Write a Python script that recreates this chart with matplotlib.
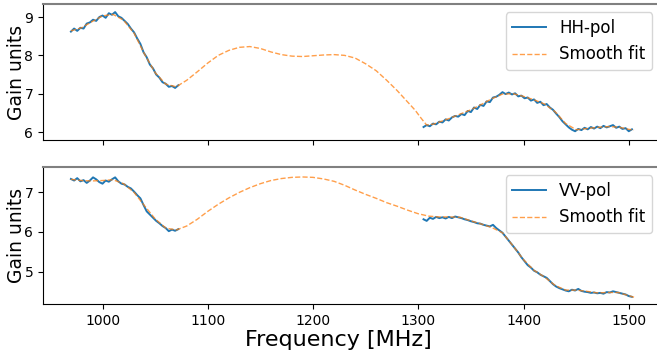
import numpy as np
import matplotlib
matplotlib.use("Agg")
import matplotlib.pyplot as plt

# measured gain, sampled every 3 MHz in two bands
lo_start, hi_start, step = 970, 1305, 3

hh_lo = [8.62, 8.70, 8.64, 8.72, 8.70, 8.83, 8.86, 8.93, 8.90, 9.00,
         9.04, 8.98, 9.10, 9.06, 9.13, 9.02, 8.98, 8.90, 8.82, 8.70,
         8.60, 8.44, 8.30, 8.08, 7.95, 7.76, 7.66, 7.50, 7.42, 7.30,
         7.26, 7.18, 7.20, 7.15, 7.22]
hh_hi = [6.13, 6.18, 6.15, 6.22, 6.20, 6.27, 6.25, 6.33, 6.30, 6.38,
         6.42, 6.40, 6.47, 6.44, 6.55, 6.52, 6.64, 6.60, 6.71, 6.68,
         6.80, 6.78, 6.90, 6.92, 6.97, 7.04, 6.99, 7.03, 6.98, 7.01,
         6.93, 6.95, 6.88, 6.90, 6.82, 6.85, 6.76, 6.79, 6.70, 6.73,
         6.64, 6.58, 6.48, 6.39, 6.28, 6.20, 6.12, 6.06, 6.02, 6.08,
         6.05, 6.11, 6.07, 6.13, 6.09, 6.14, 6.10, 6.16, 6.12, 6.15,
         6.18, 6.11, 6.14, 6.08, 6.10, 6.02, 6.07]

vv_lo = [7.34, 7.30, 7.36, 7.28, 7.31, 7.24, 7.30, 7.38, 7.33, 7.26,
         7.22, 7.30, 7.27, 7.33, 7.38, 7.28, 7.22, 7.20, 7.14, 7.10,
         7.02, 6.93, 6.85, 6.68, 6.52, 6.44, 6.36, 6.28, 6.22, 6.15,
         6.10, 6.02, 6.06, 6.03, 6.07]
vv_hi = [6.32, 6.28, 6.36, 6.33, 6.38, 6.35, 6.37, 6.34, 6.38, 6.35,
         6.39, 6.37, 6.35, 6.32, 6.30, 6.27, 6.25, 6.22, 6.21, 6.18,
         6.16, 6.14, 6.18, 6.10, 6.04, 5.98, 5.88, 5.78, 5.68, 5.58,
         5.48, 5.36, 5.26, 5.16, 5.10, 5.02, 4.98, 4.92, 4.88, 4.84,
         4.76, 4.68, 4.62, 4.58, 4.55, 4.52, 4.50, 4.54, 4.52, 4.56,
         4.51, 4.49, 4.48, 4.46, 4.47, 4.45, 4.46, 4.44, 4.48, 4.47,
         4.50, 4.48, 4.46, 4.44, 4.42, 4.38, 4.36]

# smooth fits
hh_fit_f = [970, 980, 990, 1000, 1010, 1020, 1030, 1040, 1050, 1060,
            1070, 1080, 1090, 1100, 1110, 1120, 1130, 1140, 1150, 1160,
            1170, 1180, 1190, 1200, 1210, 1220, 1230, 1240, 1250, 1260,
            1270, 1280, 1290, 1297, 1303, 1308, 1315, 1320, 1330, 1340,
            1350, 1360, 1370, 1380, 1390, 1400, 1410, 1420, 1430, 1440,
            1450, 1460, 1470, 1480, 1490, 1500, 1505]
hh_fit = [8.64, 8.72, 8.88, 9.03, 9.07, 8.92, 8.58, 8.03, 7.55, 7.25,
          7.18, 7.35, 7.57, 7.80, 8.00, 8.13, 8.21, 8.23, 8.18, 8.09,
          8.02, 7.98, 7.97, 7.99, 8.01, 8.02, 8.00, 7.93, 7.78, 7.60,
          7.35, 7.08, 6.78, 6.57, 6.35, 6.18, 6.21, 6.26, 6.36, 6.47,
          6.58, 6.72, 6.87, 6.99, 7.00, 6.93, 6.84, 6.73, 6.53, 6.22,
          6.06, 6.09, 6.12, 6.14, 6.13, 6.07, 6.05]

vv_fit_f = [970, 980, 990, 1000, 1010, 1020, 1030, 1040, 1050, 1060,
            1070, 1080, 1090, 1100, 1110, 1120, 1130, 1140, 1150, 1160,
            1170, 1180, 1190, 1200, 1210, 1220, 1230, 1240, 1250, 1260,
            1270, 1280, 1290, 1300, 1310, 1320, 1330, 1340, 1350, 1360,
            1370, 1380, 1390, 1400, 1410, 1420, 1430, 1440, 1450, 1460,
            1470, 1480, 1490, 1500, 1505]
vv_fit = [7.33, 7.30, 7.29, 7.30, 7.32, 7.22, 7.00, 6.66, 6.33, 6.10,
          6.05, 6.15, 6.32, 6.52, 6.70, 6.86, 7.00, 7.12, 7.22, 7.30,
          7.35, 7.38, 7.39, 7.38, 7.34, 7.28, 7.18, 7.06, 6.95, 6.85,
          6.74, 6.65, 6.55, 6.46, 6.40, 6.38, 6.38, 6.37, 6.28, 6.20,
          6.11, 5.98, 5.65, 5.30, 5.03, 4.86, 4.65, 4.53, 4.53, 4.50,
          4.46, 4.47, 4.47, 4.39, 4.35]


def band(start, vals):
    f = start + step * np.arange(len(vals))
    return f, np.array(vals)


fig = plt.figure(figsize=(6.57, 3.51), dpi=100)
ax1 = fig.add_axes([0.0655, 0.601, 0.9396, 0.3875])
ax2 = fig.add_axes([0.0655, 0.134, 0.9396, 0.390], sharex=ax1)

panels = [
    (ax1, hh_lo, hh_hi, hh_fit_f, hh_fit, "HH-pol", (5.79, 9.34), [6, 7, 8, 9]),
    (ax2, vv_lo, vv_hi, vv_fit_f, vv_fit, "VV-pol", (4.18, 7.64), [5, 6, 7]),
]

for ax, lo, hi, ff, fv, name, ylim, yt in panels:
    f1, v1 = band(lo_start, lo)
    f2, v2 = band(hi_start, hi)
    ax.plot(f1, v1, color="C0", lw=1.4, label=name)
    ax.plot(f2, v2, color="C0", lw=1.4)
    ax.plot(ff, fv, color="C1", ls="--", lw=1.0, alpha=0.75, label="Smooth fit")
    ax.set_ylim(*ylim)
    ax.set_yticks(yt)
    ax.set_ylabel("Gain units", fontsize=13.5, labelpad=-1)
    ax.tick_params(labelsize=10)
    ax.spines["right"].set_visible(False)
    ax.spines["top"].set_color("gray")
    ax.spines["top"].set_linewidth(1.5)
    ax.legend(loc="upper right", fontsize=12)

ax1.set_xlim(943.5, 1530)
ax1.set_xticks([1000, 1100, 1200, 1300, 1400, 1500])
ax1.tick_params(labelbottom=False)
ax2.set_xlabel("Frequency [MHz]", fontsize=16, labelpad=2, x=0.478)

fig.savefig("out.png", dpi=100)
